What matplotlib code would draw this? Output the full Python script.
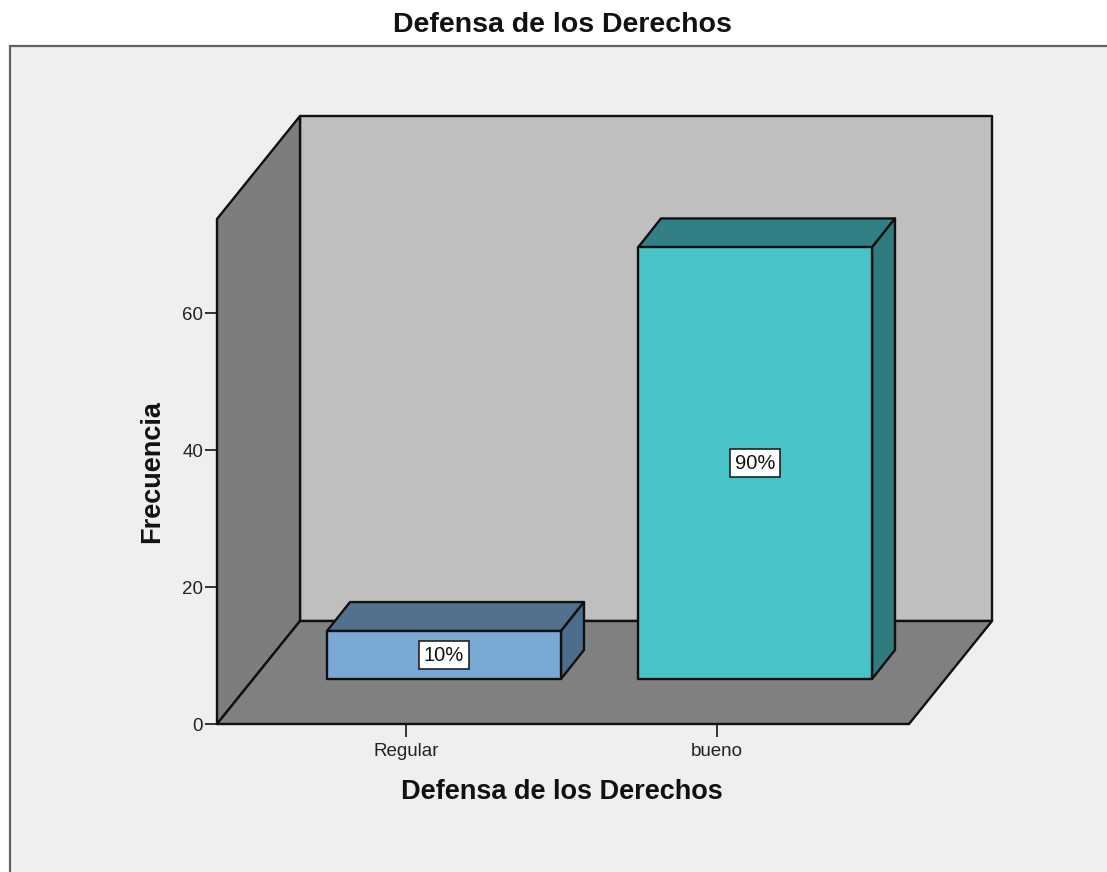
import matplotlib
matplotlib.use('Agg')
import matplotlib.pyplot as plt
from matplotlib.patches import Polygon, Rectangle

plt.rcParams['font.family'] = ['Liberation Sans', 'DejaVu Sans']

# data
title = "Defensa de los Derechos"
categories = ["Regular", "bueno"]
counts = [7, 63]
percents = ["10%", "90%"]
y_ticks = [0, 20, 40, 60]
ylabel = "Frecuencia"
xlabel = "Defensa de los Derechos"

front_colors = ["#7ba9d6", "#48c3c7"]
top_colors = ["#51718f", "#318085"]
side_colors = ["#4e6d8c", "#2f7b7e"]

W, H = 1107, 872
fig = plt.figure(figsize=(W / 100, H / 100), dpi=100, facecolor='white')

# grey chart frame, runs off the right and bottom of the picture
fig.add_artist(Rectangle((10 / W, -0.1), 1.1, 1 - 46 / H + 0.1, transform=fig.transFigure,
                         fc='#efefef', ec='#606060', lw=1.6, zorder=-1))
fig.text(562 / W, 1 - 25 / H, title, ha='center', va='center', fontsize=20.5, fontweight='bold', color='#111111')

# axes = front plane of the 3D box
ax = fig.add_axes([217 / W, 1 - 724 / H, (909 - 217) / W, (724 - 219) / H])
ax.patch.set_visible(False)
px_x = 311.0  # pixels per category
px_y = 6.85   # pixels per count
ax.set_xlim(-189 / px_x, 503 / px_x)
ax.set_ylim(0, 505 / px_y)
xmin, xmax = ax.get_xlim()
ymin, ymax = ax.get_ylim()
dx = 83 / px_x
dy = 103 / px_y


def add_poly(pts, fc, z):
    ax.add_patch(Polygon(pts, closed=True, fc=fc, ec='#101010', lw=1.7, joinstyle='round',
                         clip_on=False, zorder=z))


# walls and floor
add_poly([(xmin + dx, ymin + dy), (xmax + dx, ymin + dy), (xmax + dx, ymax + dy), (xmin + dx, ymax + dy)], '#bfbfbf', 1)
add_poly([(xmin, ymin), (xmin + dx, ymin + dy), (xmin + dx, ymax + dy), (xmin, ymax)], '#7d7d7d', 2)
add_poly([(xmin, ymin), (xmax, ymin), (xmax + dx, ymin + dy), (xmin + dx, ymin + dy)], '#808080', 2)

# bars
bar_w = 234 / px_x
shift_x = 36 / px_x   # bar front sits this far behind the box front
shift_y = 45 / px_y
depth_x = 23 / px_x
depth_y = 29 / px_y
for i, n in enumerate(counts):
    x0 = i - bar_w / 2 + shift_x + 2 / px_x
    x1 = x0 + bar_w
    y0 = shift_y
    y1 = y0 + n
    add_poly([(x0, y1), (x1, y1), (x1 + depth_x, y1 + depth_y), (x0 + depth_x, y1 + depth_y)], top_colors[i], 3)
    add_poly([(x1, y0), (x1 + depth_x, y0 + depth_y), (x1 + depth_x, y1 + depth_y), (x1, y1)], side_colors[i], 3)
    add_poly([(x0, y0), (x1, y0), (x1, y1), (x0, y1)], front_colors[i], 4)
    ax.text((x0 + x1) / 2, (y0 + y1) / 2, percents[i], ha='center', va='center', fontsize=14.5, color='#111111', zorder=5,
            bbox=dict(boxstyle='square,pad=0.22', fc='white', ec='#222222', lw=1.2))

for s in ax.spines.values():
    s.set_visible(False)
ax.set_xticks(range(len(categories)))
ax.set_xticklabels(categories, fontsize=13.5, color='#222222')
ax.set_yticks(y_ticks)
ax.set_yticklabels([str(v) for v in y_ticks], fontsize=13.5, color='#222222')
ax.tick_params(axis='x', length=9, width=1.4, color='#333333', pad=5)
ax.tick_params(axis='y', length=9, width=1.4, color='#333333', pad=1)

fig.text(152 / W, 1 - 472 / H, ylabel, rotation=90, ha='center', va='center', fontsize=19.5, fontweight='bold', color='#111111')
fig.text(562 / W, 1 - 792 / H, xlabel, ha='center', va='center', fontsize=19.5, fontweight='bold', color='#111111')

fig.savefig('out.png', dpi=100)
